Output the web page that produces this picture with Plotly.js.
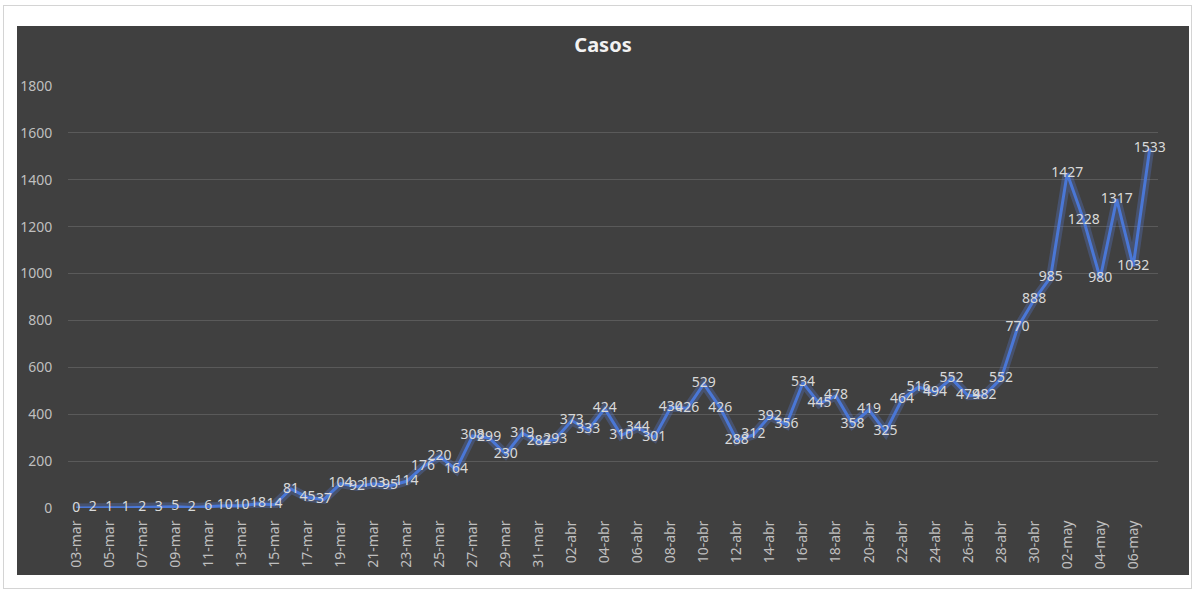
<!DOCTYPE html>
<html>
<head>
<meta charset="utf-8">
<script src="https://cdn.plot.ly/plotly-3.0.1.min.js"></script>
<style>
  html, body { margin: 0; padding: 0; background: #ffffff; }
  body { width: 1201px; height: 591px; position: relative; overflow: hidden; }
  #frame { position: absolute; left: 3px; top: 5px; width: 1189px; height: 584px;
           border: 1px solid #d4d4d4; box-sizing: border-box; background: #ffffff; }
  #chart { position: absolute; left: 17px; top: 26px; width: 1172px; height: 549px; }
</style>
</head>
<body>
<div id="frame"></div>
<div id="chart"></div>
<script>
// Daily cases, 03-mar to 07-may
const fechas = [
  '03-mar','04-mar','05-mar','06-mar','07-mar','08-mar','09-mar','10-mar','11-mar','12-mar',
  '13-mar','14-mar','15-mar','16-mar','17-mar','18-mar','19-mar','20-mar','21-mar','22-mar',
  '23-mar','24-mar','25-mar','26-mar','27-mar','28-mar','29-mar','30-mar','31-mar',
  '01-abr','02-abr','03-abr','04-abr','05-abr','06-abr','07-abr','08-abr','09-abr','10-abr',
  '11-abr','12-abr','13-abr','14-abr','15-abr','16-abr','17-abr','18-abr','19-abr','20-abr',
  '21-abr','22-abr','23-abr','24-abr','25-abr','26-abr','27-abr','28-abr','29-abr','30-abr',
  '01-may','02-may','03-may','04-may','05-may','06-may','07-may'
];
const casos = [
  0, 2, 1, 1, 2, 3, 5, 2, 6, 10,
  10, 18, 14, 81, 45, 37, 104, 92, 103, 95,
  114, 176, 220, 164, 308, 299, 230, 319, 282,
  293, 373, 333, 424, 310, 344, 301, 430, 426, 529,
  426, 288, 312, 392, 356, 534, 445, 478, 358, 419,
  325, 464, 516, 494, 552, 479, 482, 552, 770, 888,
  985, 1427, 1228, 980, 1317, 1032, 1533
];
const yTicks = [0, 200, 400, 600, 800, 1000, 1200, 1400, 1600, 1800];

// every second date is labelled on the axis
const xTickVals = fechas.filter((d, i) => i % 2 === 0);

const glow = {
  x: fechas, y: casos, type: 'scatter', mode: 'lines',
  line: { color: 'rgba(90,130,230,0.28)', width: 9 },
  hoverinfo: 'skip', showlegend: false
};
const serie = {
  x: fechas, y: casos, type: 'scatter', mode: 'lines+text',
  line: { color: '#4a77d6', width: 3 },
  text: casos.map(String), textposition: 'middle center',
  textfont: { family: 'Noto Sans, sans-serif', size: 14, color: '#d9d9d9' },
  cliponaxis: false, showlegend: false, name: 'Casos'
};

const layout = {
  width: 1172, height: 549,
  paper_bgcolor: '#404040', plot_bgcolor: '#404040',
  margin: { l: 51, r: 31, t: 60, b: 67 },
  title: { text: '<b>Casos</b>', x: 0.5, xanchor: 'center', y: 0.965, yanchor: 'middle',
           font: { family: 'Noto Sans, sans-serif', size: 20, color: '#f2f2f2' } },
  xaxis: {
    type: 'category', range: [-0.5, fechas.length - 0.5],
    tickmode: 'array', tickvals: xTickVals, ticktext: xTickVals,
    tickangle: -90, showgrid: false, zeroline: false, showline: false,
    ticks: 'outside', ticklen: 6, tickcolor: 'rgba(0,0,0,0)',
    tickfont: { family: 'Noto Sans, sans-serif', size: 14, color: '#bfbfbf' }
  },
  yaxis: {
    range: [0, 1800], tickmode: 'array', tickvals: yTicks,
    showgrid: true, gridcolor: '#5a5a5a', gridwidth: 1, zeroline: false, showline: false,
    ticks: 'outside', ticklen: 12, tickcolor: 'rgba(0,0,0,0)',
    tickfont: { family: 'Noto Sans, sans-serif', size: 14, color: '#bfbfbf' }
  },
  font: { family: 'Noto Sans, sans-serif' }
};

Plotly.newPlot('chart', [glow, serie], layout, { displayModeBar: false, staticPlot: true });
</script>
</body>
</html>
